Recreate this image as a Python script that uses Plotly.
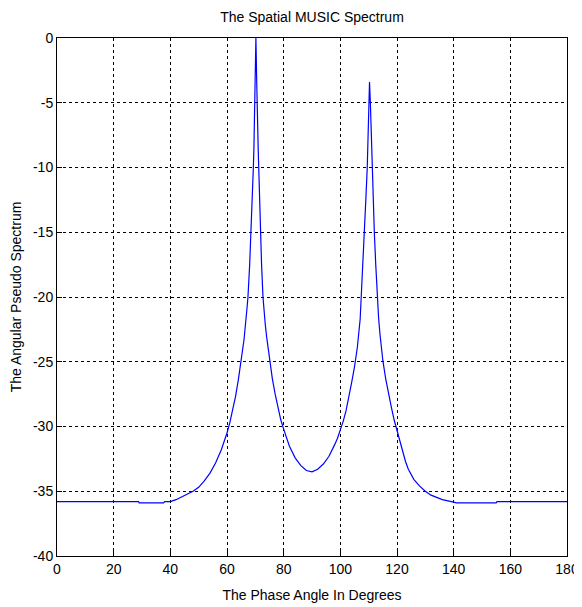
import plotly.graph_objects as go

# Angle in degrees and pseudo-spectrum in dB
angle_deg = [
    0, 10, 20, 28.8, 29, 35, 37.6, 38, 40, 42, 44, 46, 48, 50, 52, 54, 56, 58,
    59, 60, 61, 62, 63, 64, 65, 66, 67, 67.4, 68, 68.5, 69, 69.3, 69.5, 69.8, 70,
    70.2, 70.5, 70.6, 71, 71.2, 71.5, 71.8, 72.2, 72.7, 73, 73.5, 74, 75, 76, 77,
    78, 79, 80, 81, 82, 84, 86, 88, 90, 92, 94, 96, 97, 98, 99, 100, 101, 102,
    103, 104, 105, 106, 107, 107.4, 108, 108.6, 109.1, 109.5, 110, 110.3, 110.6,
    111.2, 111.6, 112, 112.5, 113, 113.5, 114, 115, 116, 117, 118, 119, 120, 121,
    122, 123, 124, 125, 126, 128, 130, 132, 134, 136, 138, 140, 141, 155, 155.3,
    165, 180,
]
spectrum_db = [
    -35.8, -35.8, -35.8, -35.8, -35.9, -35.9, -35.9, -35.8, -35.8, -35.65, -35.45,
    -35.25, -35.0, -34.7, -34.2, -33.6, -32.8, -31.8, -31.2, -30.5, -29.7, -28.8,
    -27.7, -26.4, -25.0, -23.3, -21.0, -20.0, -17.5, -15.0, -12.0, -10.0, -8.5,
    -5.0, -2.5, 0.0, -3.5, -5.0, -8.5, -10.0, -12.5, -15.0, -17.5, -20.0, -21.0,
    -22.1, -23.1, -24.8, -26.3, -27.5, -28.5, -29.5, -30.2, -30.9, -31.5, -32.4,
    -33.0, -33.4, -33.5, -33.3, -32.9, -32.3, -31.9, -31.4, -30.9, -30.3, -29.6,
    -28.8, -27.8, -26.6, -25.4, -23.9, -21.7, -20.0, -17.5, -15.0, -12.0, -10.0,
    -5.0, -3.4, -5.0, -10.0, -12.5, -15.0, -17.5, -20.0, -21.6, -22.9, -24.9,
    -26.3, -27.5, -28.5, -29.5, -30.3, -31.2, -32.0, -32.7, -33.3, -33.7, -34.1,
    -34.6, -35.0, -35.3, -35.5, -35.65, -35.75, -35.85, -35.9, -35.9, -35.8,
    -35.8, -35.8,
]

x_ticks = list(range(0, 181, 20))
y_ticks = list(range(-40, 1, 5))
y_tick_text = [str(v) for v in y_ticks]  # plain hyphen like the original

FONT = "Liberation Sans, Arial, sans-serif"

fig = go.Figure(
    go.Scatter(
        x=angle_deg,
        y=spectrum_db,
        mode="lines",
        line=dict(color="#0000ff", width=1.2),
        showlegend=False,
    )
)

axis_common = dict(
    automargin=False,
    showline=True,
    linecolor="black",
    linewidth=1,
    mirror=True,
    showgrid=True,
    gridcolor="black",
    gridwidth=1,
    griddash="3px,3px",
    zeroline=False,
    ticks="inside",
    ticklen=5,
    tickcolor="black",
    tickfont=dict(family=FONT, size=14, color="black"),
)

# the page body adds an 8px margin, so the figure is 8px smaller than the window
fig.update_layout(
    width=574,
    height=599,
    paper_bgcolor="white",
    plot_bgcolor="white",
    margin=dict(l=49, r=15, t=30, b=51),
    title=dict(
        text="The Spatial MUSIC Spectrum",
        x=0.5,
        xref="paper",
        xanchor="center",
        y=0.985,
        yanchor="middle",
        font=dict(family=FONT, size=14, color="black"),
    ),
    xaxis=dict(
        axis_common,
        range=[0, 180],
        tickvals=x_ticks,
        title=dict(text="The Phase Angle In Degrees", standoff=14,
                   font=dict(family=FONT, size=14, color="black")),
    ),
    yaxis=dict(
        axis_common,
        range=[-40, 0],
        tickvals=y_ticks,
        ticktext=y_tick_text,
        title=dict(text="The Angular Pseudo Spectrum", standoff=14,
                   font=dict(family=FONT, size=14, color="black")),
    ),
)

fig.write_html("out.html")
